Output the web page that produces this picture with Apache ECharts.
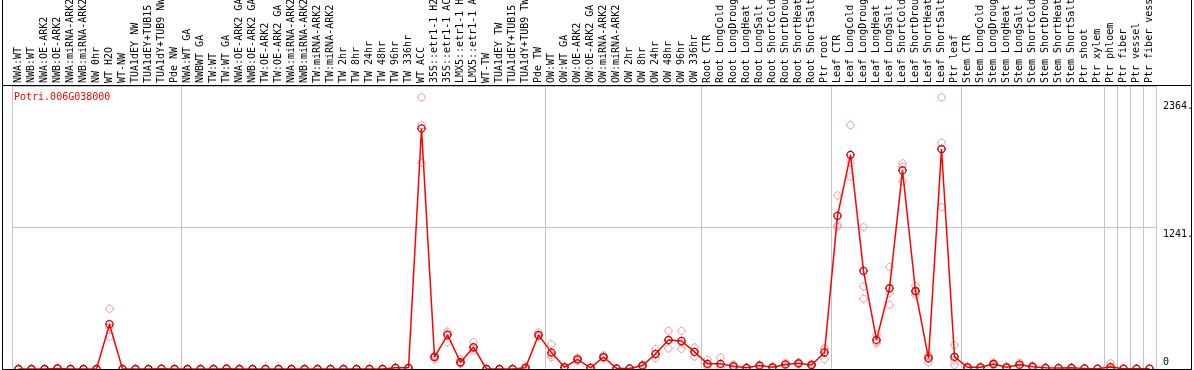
<!DOCTYPE html>
<html>
<head>
<meta charset="utf-8">
<script src="https://cdn.jsdelivr.net/npm/echarts@6/dist/echarts.min.js"></script>
<style>
html,body{margin:0;padding:0;background:#fff;}
#chart{width:1194px;height:370px;}
</style>
</head>
<body>
<div id="chart"></div>
<script>
const geneName = 'Potri.006G038000';

const categories = [
 'NWA:WT','NWB:WT','NWA:OE-ARK2','NWB:OE-ARK2','NWA:miRNA-ARK2','NWB:miRNA-ARK2','NW 0hr','WT H2O','WT-NW','TUA1dEY NW','TUA1dEY+TUB15','TUA1dY+TUB9 NW','Pde NW',
 'NWA:WT GA','NWBWT GA','TW:WT','TW:WT GA','NWA:OE-ARK2 GA','NWB:OE-ARK2 GA','TW:OE-ARK2','TW:OE-ARK2 GA','NWA:miRNA-ARK2','NWB:miRNA-ARK2','TW:miRNA-ARK2','TW:miRNA-ARK2',
 'TW 2hr','TW 8hr','TW 24hr','TW 48hr','TW 96hr','TW 336hr','WT ACC','35S::etr1-1 H2O','35S::etr1-1 ACC','LMX5::etr1-1 H2O','LMX5::etr1-1 ACC','WT-TW','TUA1dEY TW','TUA1dEY+TUB15','TUA1dY+TUB9 TW','Pde TW',
 'OW:WT','OW:WT GA','OW:OE-ARK2','OW:OE-ARK2 GA','OW:miRNA-ARK2','OW:miRNA-ARK2','OW 2hr','OW 8hr','OW 24hr','OW 48hr','OW 96hr','OW 336hr',
 'Root CTR','Root LongCold','Root LongDrought','Root LongHeat','Root LongSalt','Root ShortCold','Root ShortDrought','Root ShortHeat','Root ShortSalt','Ptr root',
 'Leaf CTR','Leaf LongCold','Leaf LongDrought','Leaf LongHeat','Leaf LongSalt','Leaf ShortCold','Leaf ShortDrought','Leaf ShortHeat','Leaf ShortSalt','Ptr leaf',
 'Stem CTR','Stem LongCold','Stem LongDrought','Stem LongHeat','Stem LongSalt','Stem ShortCold','Stem ShortDrought','Stem ShortHeat','Stem ShortSalt','Ptr shoot',
 'Ptr xylem','Ptr phloem','Ptr fiber','Ptr vessel','Ptr fiber vessel'
];

// indices (0-based) of categories that start a new group
const groupStarts = [0,13,41,53,63,73,84,85,86,87];

const meanValues = [
 0,0,0,5,0,0,0,393,0,0,0,3,0,
 0,0,0,3,0,0,0,0,0,0,0,0,
 0,0,0,0,10,10,2110,105,299,59,191,0,0,0,10,299,
 144,15,85,10,105,5,5,30,132,255,246,150,
 45,45,25,10,30,15,40,50,35,145,
 1343,1878,861,255,708,1742,684,94,1929,107,
 15,15,44,15,38,20,10,8,10,5,
 3,17,3,3,3
];

const rep1 = [
 0,0,0,12,0,0,0,528,0,0,0,8,0,
 0,0,0,9,0,0,0,0,0,0,0,0,
 0,0,0,0,15,15,2382,114,328,85,235,0,0,0,26,323,
 217,20,100,10,120,5,5,40,175,335,334,190,
 80,100,40,15,40,20,55,60,45,182,
 1522,2138,1244,299,895,1804,730,108,2382,208,
 20,20,56,20,56,30,15,10,15,8,
 5,50,5,5,5
];
const rep2 = [
 0,0,0,2,0,0,0,367,0,0,0,1,0,
 0,0,0,0,0,0,0,0,0,0,0,0,
 0,0,0,0,10,10,2138,85,235,50,161,0,0,0,3,284,
 103,15,85,12,100,5,5,30,130,250,229,150,
 35,20,20,10,30,15,40,50,35,167,
 1261,1810,724,240,666,1775,671,118,1986,79,
 15,15,44,15,35,20,10,8,10,5,
 3,0,3,3,3
];
const rep3 = [
 0,0,0,1,0,0,0,284,0,0,0,0,0,
 0,0,0,0,0,0,0,0,0,0,0,0,
 0,0,0,0,5,5,1810,116,314,42,182,0,0,0,1,290,
 123,10,70,8,95,5,5,20,95,180,176,110,
 20,15,15,5,20,10,25,40,25,85,
 1247,1687,616,226,563,1648,651,56,1419,35,
 10,10,32,10,23,10,5,6,5,2,
 1,0,1,1,1
];

const yMax = 2482;
const yInterval = 1241;
const yTickValues = [0, 1241, 2364];
const yTickLabels = ['0', '1241.', '2364.'];

const MONO = 'DejaVu Sans Mono';
const sym = 'path://M0,-4.5L0,-3.5M0,3.5L0,4.5M-4.5,0L-3.5,0M3.5,0L4.5,0' +
  'M3.5,0C3.5,1.933,1.933,3.5,0,3.5C-1.933,3.5,-3.5,1.933,-3.5,0C-3.5,-1.933,-1.933,-3.5,0,-3.5C1.933,-3.5,3.5,-1.933,3.5,0Z';
const isStart = (i) => groupStarts.indexOf(i) >= 0;

const chart = echarts.init(document.getElementById('chart'), null, {renderer: 'canvas'});

function repSeries(arr) {
  return {
    type: 'scatter', data: arr, symbol: sym, symbolSize: 9, z: 2,
    itemStyle: {color: 'rgba(0,0,0,0)', borderColor: '#ee9090', borderWidth: 1},
    emphasis: {disabled: true}, silent: true
  };
}

chart.setOption({
  animation: false,
  backgroundColor: '#fff',
  title: {
    text: geneName, left: 9, top: 87,
    textStyle: {color: '#ff0000', fontFamily: MONO, fontSize: 10, fontWeight: 'normal'}
  },
  grid: {left: 12, right: 38, top: 86, bottom: 1, containLabel: false, outerBoundsMode: 'none'},
  xAxis: {
    type: 'category', position: 'top', data: categories, boundaryGap: true,
    axisLine: {show: false},
    axisTick: {show: true, inside: false, length: 86, interval: (i) => isStart(i),
      lineStyle: {color: '#c4c4c4', width: 1}},
    splitLine: {show: true, interval: (i) => isStart(i), lineStyle: {color: '#c4c4c4', width: 1}},
    axisLabel: {interval: 0, rotate: 90, margin: 3, fontFamily: MONO, fontSize: 10, color: '#000', hideOverlap: false}
  },
  yAxis: {
    type: 'value', position: 'right', min: 0, max: yMax, interval: yInterval,
    axisLine: {show: false}, axisTick: {show: false},
    splitLine: {show: true, lineStyle: {color: '#c4c4c4', width: 1}},
    axisLabel: {
      customValues: yTickValues, margin: 7, fontFamily: MONO, fontSize: 10, color: '#000',
      formatter: (v) => {
        const idx = yTickValues.indexOf(v);
        const t = idx >= 0 ? yTickLabels[idx] : '';
        return v === 0 ? '{lo|' + t + '}' : '{hi|' + t + '}';
      },
      rich: {
        lo: {fontFamily: MONO, fontSize: 10, color: '#000', padding: [0, 0, 14, 0]},
        hi: {fontFamily: MONO, fontSize: 10, color: '#000', padding: [14, 0, 0, 0]}
      }
    }
  },
  graphic: [
    {type: 'line', z: 100, shape: {x1: 2.5, y1: 0, x2: 2.5, y2: 370}, style: {stroke: '#000', lineWidth: 1}},
    {type: 'line', z: 100, shape: {x1: 1191.5, y1: 0, x2: 1191.5, y2: 370}, style: {stroke: '#000', lineWidth: 1}},
    {type: 'line', z: 100, shape: {x1: 2, y1: 85.5, x2: 1192, y2: 85.5}, style: {stroke: '#000', lineWidth: 1}},
    {type: 'line', z: 100, shape: {x1: 2, y1: 369.5, x2: 1192, y2: 369.5}, style: {stroke: '#000', lineWidth: 1}}
  ],
  series: [
    repSeries(rep1), repSeries(rep2), repSeries(rep3),
    {
      type: 'line', data: meanValues, symbol: sym, symbolSize: 9, showAllSymbol: true, z: 3,
      lineStyle: {color: '#ff0000', width: 1.5},
      itemStyle: {color: 'rgba(0,0,0,0)', borderColor: '#d00000', borderWidth: 1.3},
      emphasis: {disabled: true}, silent: true
    }
  ]
});
</script>
</body>
</html>
